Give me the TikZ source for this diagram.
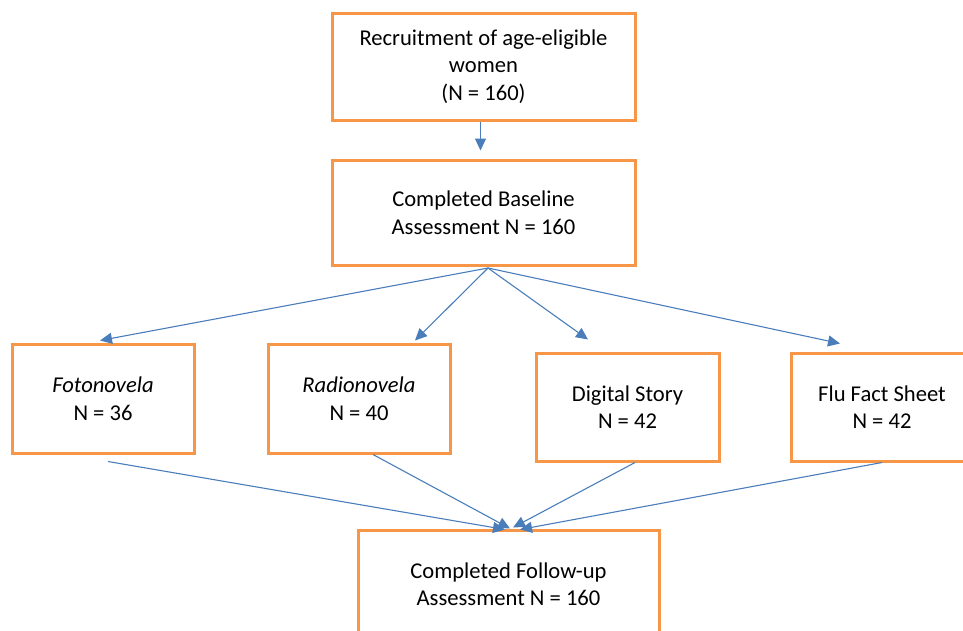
\documentclass[tikz,border=0pt]{standalone}
\usepackage{fontspec}
\setmainfont{Carlito}
\usetikzlibrary{arrows.meta}
\definecolor{boxorange}{RGB}{247,150,70}
\definecolor{arrowblue}{RGB}{74,126,187}
\tikzset{
  stagebox/.style={draw=boxorange,line width=3pt,align=center,inner sep=0pt,
    font=\fontsize{22.6}{27.5}\selectfont},
  flowarrow/.style={draw=arrowblue,line width=1.1pt,-{Triangle[length=12pt,width=11pt]}}
}
\begin{document}
\begin{tikzpicture}[x=1pt,y=-1pt]
  \clip (0,0) rectangle (963,630);
  \useasboundingbox (0,0) rectangle (963,630);
  % Recruitment and baseline
  \node[stagebox,minimum width=303pt,minimum height=107pt] (recruit) at (483.5,66.5)
    {Recruitment of age-eligible\\women\\(N = 160)};
  \node[stagebox,minimum width=303pt,minimum height=105pt] (baseline) at (483.5,212.5)
    {Completed Baseline\\Assessment N = 160};
  % Four study arms
  \node[stagebox,minimum width=182pt,minimum height=109pt] (foto) at (103,398.5)
    {\textit{Fotonovela}\\N = 36};
  \node[stagebox,minimum width=182pt,minimum height=109pt] (radio) at (359,398.5)
    {\textit{Radionovela}\\N = 40};
  \node[stagebox,minimum width=183pt,minimum height=108pt] (digital) at (627.5,407)
    {Digital Story\\N = 42};
  \node[stagebox,minimum width=182pt,minimum height=108pt] (flu) at (882,407)
    {Flu Fact Sheet\\N = 42};
  % Follow-up
  \node[stagebox,minimum width=301pt,minimum height=108pt] (follow) at (508.5,584)
    {Completed Follow-up\\Assessment N = 160};
  \coordinate (split) at (488,268);
  % Arrows down
  \draw[flowarrow] ([xshift=-3pt]recruit.south) -- ([xshift=-3pt,yshift=8pt]baseline.north);
  \draw[flowarrow] (split) -- ([xshift=-3pt,yshift=2pt]foto.north);
  \draw[flowarrow] (split) -- ([xshift=56pt,yshift=2pt]radio.north);
  \draw[flowarrow] (split) -- ([xshift=-39.5pt,yshift=12pt]digital.north);
  \draw[flowarrow] (split) -- ([xshift=-42pt,yshift=8pt]flu.north);
  % Arrows into follow-up
  \draw[flowarrow] ([xshift=5pt,yshift=-7pt]foto.south) -- ([xshift=-3.5pt,yshift=-1pt]follow.north);
  \draw[flowarrow] ([xshift=14pt]radio.south) -- ([xshift=1.5pt]follow.north);
  \draw[flowarrow] ([xshift=7.5pt]digital.south) -- ([xshift=4.5pt,yshift=1pt]follow.north);
  \draw[flowarrow] (flu.south) -- ([xshift=11.5pt,yshift=-1pt]follow.north);
\end{tikzpicture}
\end{document}
